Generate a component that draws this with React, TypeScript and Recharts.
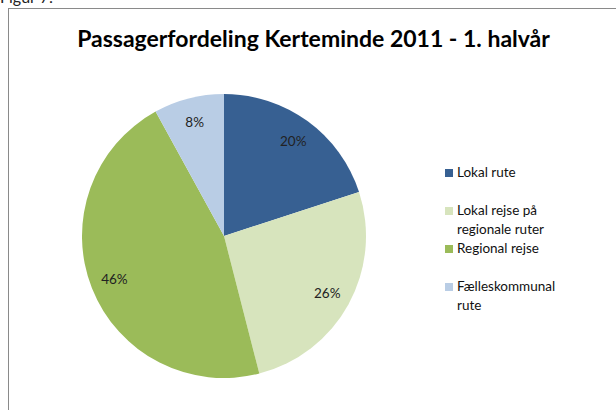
import { Cell, Legend, Pie, PieChart } from "recharts";

const categories = ["Lokal rute", "Lokal rejse på regionale ruter", "Regional rejse", "Fælleskommunal rute"];
const shares = [20, 26, 46, 8];
const colors = ["#376092", "#D7E4BD", "#9BBB59", "#B9CDE5"];
// legend text is wrapped the same way as in the original
const legendLines = [["Lokal rute"], ["Lokal rejse på", "regionale ruter"], ["Regional rejse"], ["Fælleskommunal", "rute"]];

const data = categories.map((name, i) => ({ name, value: shares[i] }));

const FONT = "Lato, 'Open Sans', sans-serif";
const RAD = Math.PI / 180;

function renderLabel(props: any) {
  const { cx, cy, midAngle, outerRadius, percent } = props;
  const r = outerRadius * 0.83;
  const x = cx + r * Math.cos(-midAngle * RAD);
  const y = cy + r * Math.sin(-midAngle * RAD);
  return (
    <text x={x} y={y} textAnchor="middle" dominantBaseline="central" fontSize={13.5} fill="#222" fontFamily={FONT}>
      {`${Math.round(percent * 100)}%`}
    </text>
  );
}

function LegendBox() {
  return (
    <div style={{ fontFamily: FONT, fontSize: 13.5, color: "#111" }}>
      {legendLines.map((lines, i) => (
        <div key={i} style={{ height: 38, display: "flex", alignItems: "flex-start" }}>
          <span style={{ width: 8, height: 8, background: colors[i], marginTop: 6, marginRight: 4, flex: "none" }} />
          <div style={{ lineHeight: "19px" }}>
            {lines.map((l) => (
              <div key={l}>{l}</div>
            ))}
          </div>
        </div>
      ))}
    </div>
  );
}

export default function App() {
  return (
    <div style={{ position: "fixed", left: 0, top: 0, width: 616, height: 410, background: "#fff", overflow: "hidden" }}>
      <div style={{ position: "absolute", left: 0, top: -13, fontFamily: FONT, fontSize: 16, color: "#222" }}>Figur 7:</div>
      <div style={{ position: "absolute", left: 8, top: 8, width: 620, height: 420, borderLeft: "1px solid #8a8a8a", borderTop: "1px solid #8a8a8a" }} />
      <div style={{ position: "absolute", left: 0, top: 24, width: 627, textAlign: "center", fontFamily: FONT, fontWeight: 700, fontSize: 23, color: "#000", whiteSpace: "nowrap" }}>
        Passagerfordeling Kerteminde 2011 - 1. halvår
      </div>
      <div style={{ position: "absolute", left: 0, top: 0 }}>
        <PieChart width={616} height={410} margin={{ top: 0, right: 0, bottom: 0, left: 0 }}>
          <Pie
            data={data}
            dataKey="value"
            nameKey="name"
            cx={224}
            cy={236}
            outerRadius={142}
            startAngle={90}
            endAngle={-270}
            stroke="none"
            label={renderLabel}
            labelLine={false}
            isAnimationActive={false}
          >
            {data.map((d, i) => (
              <Cell key={d.name} fill={colors[i]} />
            ))}
          </Pie>
          <Legend content={<LegendBox />} wrapperStyle={{ left: 445, top: 163, width: 165 }} />
        </PieChart>
      </div>
    </div>
  );
}
